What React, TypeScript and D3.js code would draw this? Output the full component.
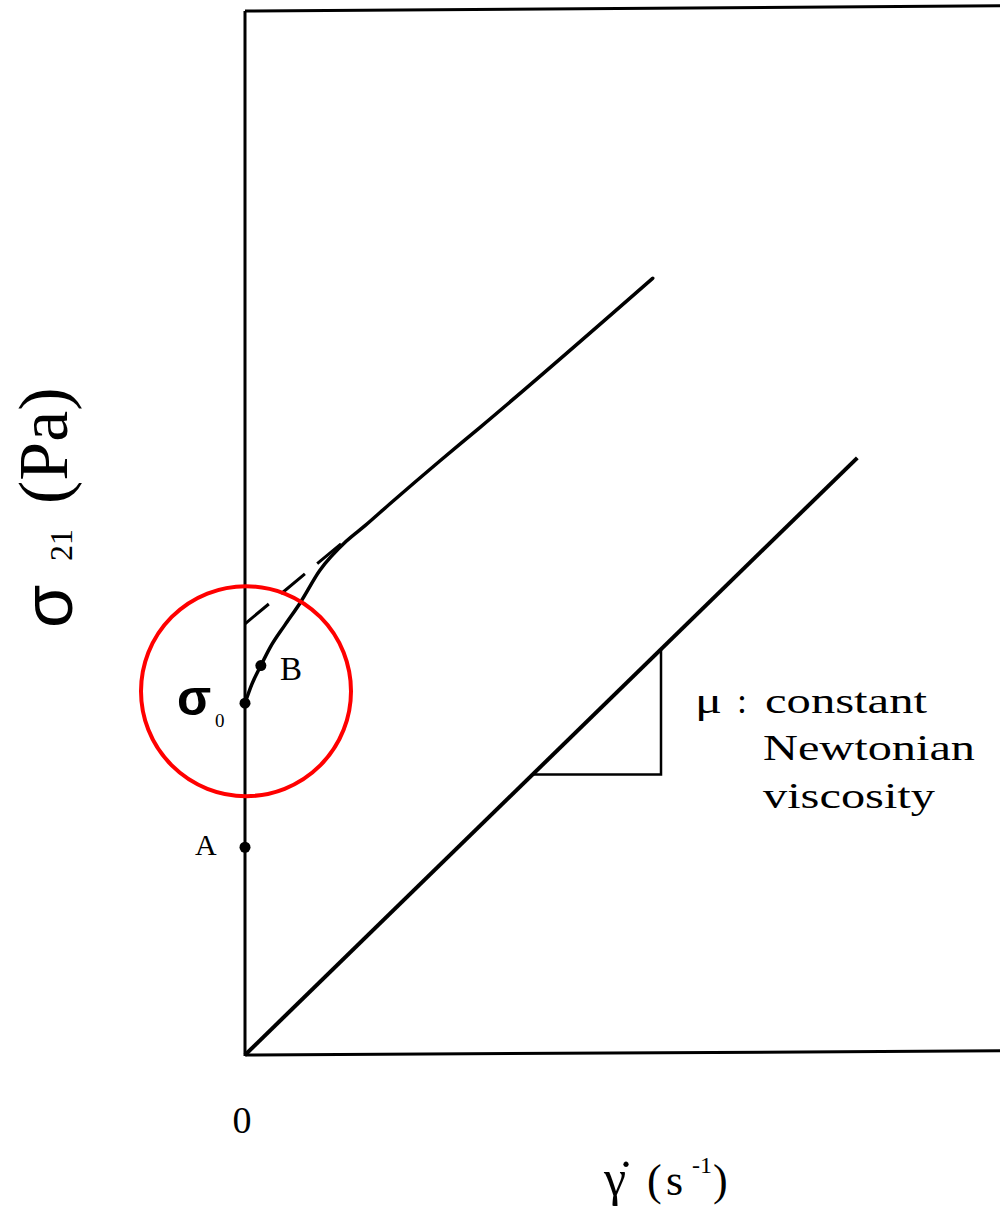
import React from "react";
import * as d3 from "d3";

// Flow curve of a yield-stress fluid vs. a Newtonian fluid (schematic units)
const flowGamma = [0, 0.9, 2.1, 3.3, 5.3, 7.3, 9.9, 13.4, 15.9, 19.2, 25.8, 31.1, 54.0];
const flowStress = [33.7, 35.5, 37.3, 39.0, 41.2, 43.3, 46.4, 49.2, 50.7, 52.8, 56.9, 60.1, 74.4];

const newtonGamma = [0, 81.1];
const newtonStress = [0, 57.2];

// linear extrapolation of the high-shear branch back to zero shear rate
const tangentGamma = [0, 13.6];
const tangentStress = [41.3, 49.5];

// slope triangle on the Newtonian line
const slopeGamma = [38.1, 55.1];

// marked states
const pointLabels = ["σ0", "B", "A"];
const pointGamma = [0, 2.1, 0];
const pointStress = [33.7, 37.3, 19.9];

const X_DOMAIN = [0, 100];
const Y_DOMAIN = [0, 100];

const W = 1000;
const H = 1208;

const serif = "'Liberation Serif', 'Times New Roman', serif";
const sans = "'Liberation Sans', Arial, sans-serif";

export default function App() {
  const x = d3.scaleLinear().domain(X_DOMAIN).range([245, 1000]);
  const y = d3.scaleLinear().domain(Y_DOMAIN).range([1055, 11]);

  const line = d3
    .line<[number, number]>()
    .x((d) => x(d[0]))
    .y((d) => y(d[1]));
  const smooth = d3
    .line<[number, number]>()
    .x((d) => x(d[0]))
    .y((d) => y(d[1]))
    .curve(d3.curveMonotoneX);

  const flowPts = flowGamma.map((g, i) => [g, flowStress[i]] as [number, number]);
  const newtonPts = newtonGamma.map((g, i) => [g, newtonStress[i]] as [number, number]);
  const tangentPts = tangentGamma.map((g, i) => [g, tangentStress[i]] as [number, number]);

  const mu = newtonStress[1] / newtonGamma[1];
  const triPts: [number, number][] = [
    [slopeGamma[0], mu * slopeGamma[0]],
    [slopeGamma[1], mu * slopeGamma[0]],
    [slopeGamma[1], mu * slopeGamma[1]],
  ];

  const s0 = { gx: x(pointGamma[0]), sy: y(pointStress[0]) };

  return (
    <svg
      width={W}
      height={H}
      style={{ position: "absolute", left: 0, top: 0, background: "#fff" }}
      xmlns="http://www.w3.org/2000/svg"
    >
      <rect x={0} y={0} width={W} height={H} fill="#fff" />

      {/* frame: stress axis, top and bottom edges */}
      <g stroke="#000" strokeWidth={3} fill="none">
        <line x1={x(0)} y1={y(0) + 1} x2={x(0)} y2={y(100)} />
        <path d={line([[0, 100], [100, 100.5]])!} />
        <path d={line([[0, 0], [100, 0.4]])!} />
      </g>

      {/* Newtonian line */}
      <path d={line(newtonPts)!} stroke="#000" strokeWidth={4} fill="none" />

      {/* slope triangle */}
      <path d={line(triPts)!} stroke="#000" strokeWidth={2.5} fill="none" />

      {/* flow curve with yield stress */}
      <path
        d={smooth(flowPts)!}
        stroke="#000"
        strokeWidth={3.5}
        fill="none"
        strokeLinecap="round"
      />

      {/* dashed extrapolation */}
      <path
        d={line(tangentPts)!}
        stroke="#000"
        strokeWidth={3}
        fill="none"
        strokeDasharray="31 16"
      />

      {/* marked points */}
      {pointLabels.map((lab, i) => (
        <circle key={lab} cx={x(pointGamma[i])} cy={y(pointStress[i])} r={5.5} fill="#000" />
      ))}

      <text x={280} y={680} fontFamily={serif} fontSize={33} fill="#000">
        B
      </text>
      <text x={195} y={855} fontFamily={serif} fontSize={30} fill="#000">
        A
      </text>

      {/* yield stress label */}
      <text x={177} y={715} fontFamily={sans} fontWeight="bold" fontSize={50} fill="#000">
        σ
        <tspan x={215} y={727} fontFamily={serif} fontWeight="normal" fontSize={19}>
          0
        </tspan>
      </text>

      {/* highlight circle */}
      <circle cx={s0.gx + 1} cy={s0.sy - 12} r={105} fill="none" stroke="#ff0000" strokeWidth={4} />

      {/* slope annotation */}
      <g fontFamily={serif} fontSize={36} fill="#000">
        <text x={695} y={713}>
          <tspan textLength={27} lengthAdjust="spacingAndGlyphs">μ</tspan>
          <tspan x={737}>:</tspan>
        </text>
        <text x={765} y={713} textLength={162} lengthAdjust="spacingAndGlyphs">
          constant
        </text>
        <text x={763} y={760} textLength={212} lengthAdjust="spacingAndGlyphs">
          Newtonian
        </text>
        <text x={763} y={808} textLength={172} lengthAdjust="spacingAndGlyphs">
          viscosity
        </text>
      </g>

      {/* origin tick label */}
      <text x={x(0) - 3} y={1133} textAnchor="middle" fontFamily={serif} fontSize={38} fill="#000">
        0
      </text>

      {/* shear-rate axis title */}
      <g fontFamily={serif} fontSize={44} fill="#000">
        <text x={604} y={1195} fontSize={50}>
          {"γ\u0307"}
        </text>
        <text x={647} y={1195}>
          (
          <tspan x={666}>s</tspan>
          <tspan x={692} y={1173} fontSize={24}>-1</tspan>
          <tspan x={713} y={1195}>)</tspan>
        </text>
      </g>

      {/* stress axis title */}
      <g fill="#000">
        <text transform="translate(72,628) rotate(-90)" fontFamily={sans} fontSize={70}>
          σ
        </text>
        <text transform="translate(72,561) rotate(-90)" fontFamily={serif} fontSize={32}>
          21
        </text>
        <text transform="translate(67,504) rotate(-90)" fontFamily={serif} fontSize={70}>
          (Pa)
        </text>
      </g>
    </svg>
  );
}
